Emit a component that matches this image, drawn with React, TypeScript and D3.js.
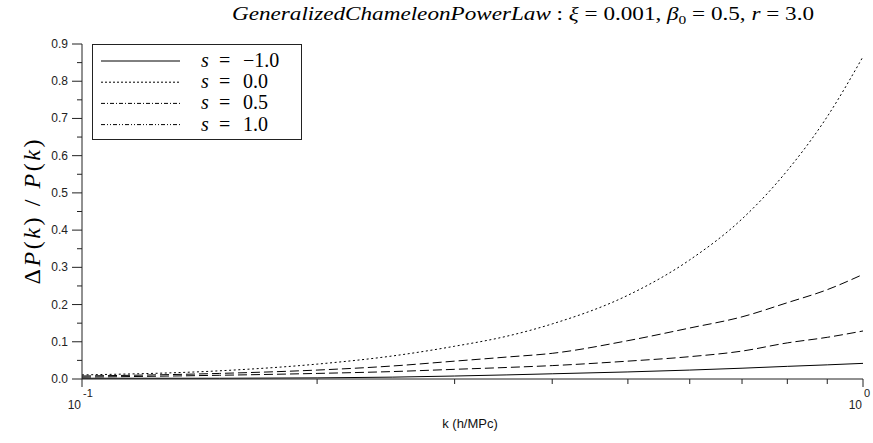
import React from "react";
import * as d3 from "d3";

// k values (h/MPc) at which curves were read
const kValues = [0.1, 0.15, 0.2, 0.25, 0.3, 0.35, 0.4, 0.5, 0.6, 0.7, 0.8, 0.9, 1.0];
// Delta P(k)/P(k) per series
const sMinus1 = [0.002, 0.002, 0.003, 0.005, 0.008, 0.011, 0.014, 0.019, 0.024, 0.029, 0.034, 0.038, 0.042];
const sZero = [0.011, 0.022, 0.04, 0.062, 0.088, 0.115, 0.148, 0.225, 0.32, 0.43, 0.56, 0.705, 0.866];
const sHalf = [0.008, 0.015, 0.024, 0.035, 0.048, 0.059, 0.069, 0.103, 0.137, 0.167, 0.205, 0.24, 0.281];
const sOne = [0.005, 0.01, 0.015, 0.02, 0.026, 0.031, 0.036, 0.048, 0.06, 0.075, 0.097, 0.112, 0.129];
const seriesLabels = ["\u22121.0", "0.0", "0.5", "1.0"];
const yMajorTicks = [0, 0.1, 0.2, 0.3, 0.4, 0.5, 0.6, 0.7, 0.8, 0.9];
const yMinorTicks = [0.05, 0.15, 0.25, 0.35, 0.45, 0.55, 0.65, 0.75, 0.85];
const xMajorTicks = [0.1, 1.0];
const xMajorExp = ["-1", "0"];
const xMinorTicks = [0.2, 0.3, 0.4, 0.5, 0.6, 0.7, 0.8, 0.9];

const W = 873;
const H = 443;
const left = 82;
const right = 863;
const top = 44;
const bottom = 379;

const plotDash = ["none", "2,2.6", "9,4", "9,4"];
const legendDash = ["none", "2,2", "4,2,1,2", "4,2,1,2,1,2"];

export default function App() {
  const x = d3.scaleLog().domain([0.1, 1]).range([left, right]);
  const y = d3.scaleLinear().domain([0, 0.9]).range([bottom, top]);
  const series = [sMinus1, sZero, sHalf, sOne];
  const line = d3
    .line<number>()
    .x((_, i) => x(kValues[i]))
    .y((d) => y(d))
    .curve(d3.curveMonotoneX);

  const axisColor = "#222";
  const sans = "Liberation Sans, Arial, sans-serif";
  const serif = "Liberation Serif, Times New Roman, Times, serif";

  return (
    <svg
      width={W}
      height={H}
      style={{ position: "absolute", left: 0, top: 0, background: "#fff" }}
    >
      <rect x={0} y={0} width={W} height={H} fill="#fff" />
      {/* title */}
      <text
        x={232}
        y={20}
        fontFamily={serif}
        fontSize={18}
        textLength={582}
        lengthAdjust="spacingAndGlyphs"
        fill="#000"
      >
        <tspan fontStyle="italic">GeneralizedChameleonPowerLaw</tspan>
        <tspan> : </tspan>
        <tspan fontStyle="italic">ξ</tspan>
        <tspan> = 0.001, </tspan>
        <tspan fontStyle="italic">β</tspan>
        <tspan fontSize={12} dy={4}>0</tspan>
        <tspan dy={-4}> = 0.5, </tspan>
        <tspan fontStyle="italic">r</tspan>
        <tspan> = 3.0</tspan>
      </text>

      {/* curves */}
      {series.map((s, i) => (
        <path
          key={i}
          d={line(s) || ""}
          fill="none"
          stroke="#000"
          strokeWidth={1}
          strokeDasharray={plotDash[i]}
        />
      ))}

      {/* y axis */}
      <line x1={left} x2={left} y1={y(0.9)} y2={y(0)} stroke={axisColor} strokeWidth={1} />
      {yMajorTicks.map((t) => (
        <g key={"ym" + t}>
          <line x1={left - 10} x2={left} y1={y(t)} y2={y(t)} stroke={axisColor} />
          <text
            x={left - 14}
            y={y(t) + 4}
            textAnchor="end"
            fontFamily={sans}
            fontSize={12}
            fill="#222"
          >
            {t.toFixed(1)}
          </text>
        </g>
      ))}
      {yMinorTicks.map((t) => (
        <line key={"yn" + t} x1={left - 5} x2={left} y1={y(t)} y2={y(t)} stroke={axisColor} />
      ))}

      {/* x axis */}
      <line x1={left} x2={right} y1={bottom} y2={bottom} stroke={axisColor} strokeWidth={1} />
      {xMajorTicks.map((t, i) => (
        <g key={"xm" + t}>
          <line x1={x(t)} x2={x(t)} y1={bottom} y2={bottom + 8} stroke={axisColor} />
          <text
            x={x(t) - 1}
            y={bottom + 30}
            textAnchor="end"
            fontFamily={sans}
            fontSize={12}
            fill="#222"
          >
            10
          </text>
          <text
            x={x(t) + 1}
            y={bottom + 18}
            textAnchor="start"
            fontFamily={sans}
            fontSize={11}
            fill="#222"
          >
            {xMajorExp[i]}
          </text>
        </g>
      ))}
      {xMinorTicks.map((t) => (
        <line key={"xn" + t} x1={x(t)} x2={x(t)} y1={bottom} y2={bottom + 5} stroke={axisColor} />
      ))}

      {/* axis labels */}
      <text
        x={470}
        y={428}
        textAnchor="middle"
        fontFamily={sans}
        fontSize={13}
        fill="#111"
      >
        k (h/MPc)
      </text>
      <text
        transform="translate(40,212) rotate(-90)"
        textAnchor="middle"
        fontFamily={serif}
        fontSize={24}
        textLength={145}
        lengthAdjust="spacing"
        fill="#000"
      >
        <tspan>Δ</tspan>
        <tspan fontStyle="italic">P</tspan>
        <tspan>(</tspan>
        <tspan fontStyle="italic">k</tspan>
        <tspan>) / </tspan>
        <tspan fontStyle="italic">P</tspan>
        <tspan>(</tspan>
        <tspan fontStyle="italic">k</tspan>
        <tspan>)</tspan>
      </text>

      {/* legend */}
      <rect x={92.5} y={44.5} width={209} height={95} fill="#fff" stroke="#222" strokeWidth={1} />
      {seriesLabels.map((lab, i) => {
        const base = 67 + i * 21.2;
        return (
          <g key={"lg" + i}>
            <line
              x1={101}
              x2={180}
              y1={base - 6}
              y2={base - 6}
              stroke="#000"
              strokeWidth={1}
              strokeDasharray={legendDash[i]}
            />
            <text y={base} fontFamily={serif} fontSize={20} fill="#000">
              <tspan x={201} fontStyle="italic">s</tspan>
              <tspan x={219}>=</tspan>
              <tspan x={243}>{lab}</tspan>
            </text>
          </g>
        );
      })}
    </svg>
  );
}
